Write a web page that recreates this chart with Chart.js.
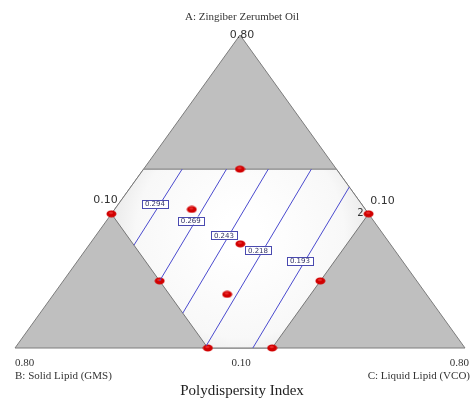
<!DOCTYPE html>
<html>
<head>
<meta charset="utf-8">
<script src="https://cdn.jsdelivr.net/npm/chart.js@4/dist/chart.umd.min.js"></script>
<style>
  body { margin: 0; background: #fff; }
  #wrap { width: 472px; height: 409px; position: relative; }
</style>
</head>
<body>
<div id="wrap"><canvas id="chart"></canvas></div>
<script>
// component bounds (real units)
const lowBound = 0.10;
const highBound = 0.80;
const upperLimit = 0.50;

const axisTitles = ['A: Zingiber Zerumbet Oil', 'B: Solid Lipid (GMS)', 'C: Liquid Lipid (VCO)'];
const vertexTicks = ['0.80', '0.80', '0.80'];
const edgeTicks = ['0.10', '0.10', '0.10'];
const chartTitle = 'Polydispersity Index';

// contour levels and their end points as (A, B, C)
const contourLevels = ['0.294', '0.269', '0.243', '0.218', '0.193'];
const contourStart = [[0.50, 0.34, 0.16], [0.50, 0.271, 0.229], [0.50, 0.206, 0.294], [0.50, 0.139, 0.361], [0.46, 0.10, 0.44]];
const contourEnd = [[0.33, 0.50, 0.17], [0.25, 0.50, 0.25], [0.178, 0.50, 0.322], [0.105, 0.50, 0.395], [0.10, 0.43, 0.47]];

// design points
const designA = [0.50, 0.40, 0.40, 0.41, 0.333, 0.25, 0.25, 0.22, 0.10, 0.10];
const designB = [0.25, 0.50, 0.10, 0.37, 0.333, 0.50, 0.25, 0.41, 0.50, 0.40];
const designC = [0.25, 0.10, 0.50, 0.22, 0.334, 0.25, 0.50, 0.37, 0.40, 0.50];
const designReps = ['', '', '2', '', '', '', '', '', '', ''];

function toXY(a, b, c) {
  const pa = (a - lowBound) / (highBound - lowBound);
  const pc = (c - lowBound) / (highBound - lowBound);
  return { x: pc + pa / 2, y: pa };
}

// region outlines
const bigTriangle = [[0.8, 0.1, 0.1], [0.1, 0.8, 0.1], [0.1, 0.1, 0.8]];
const region = [
  [upperLimit, 0.1, 1 - upperLimit - 0.1],
  [1 - upperLimit - 0.1, 0.1, upperLimit],
  [0.1, 1 - upperLimit - 0.1, upperLimit],
  [0.1, upperLimit, 1 - upperLimit - 0.1],
  [1 - upperLimit - 0.1, upperLimit, 0.1],
  [upperLimit, 1 - upperLimit - 0.1, 0.1],
];

function dotImage() {
  const c = document.createElement('canvas');
  c.width = 11; c.height = 8;
  const g = c.getContext('2d');
  g.fillStyle = '#d10000';
  g.beginPath();
  g.ellipse(5.5, 4, 5, 3.5, 0, 0, Math.PI * 2);
  g.fill();
  g.fillStyle = 'rgba(255,80,80,0.5)';
  g.beginPath();
  g.ellipse(5, 3, 2, 1.2, 0, 0, Math.PI * 2);
  g.fill();
  return c;
}

function px(chart, p) {
  const q = toXY(p[0], p[1], p[2]);
  return [chart.scales.x.getPixelForValue(q.x), chart.scales.y.getPixelForValue(q.y)];
}

function polygon(ctx, chart, pts) {
  ctx.beginPath();
  pts.forEach((p, i) => {
    const [x, y] = px(chart, p);
    if (i === 0) ctx.moveTo(x, y); else ctx.lineTo(x, y);
  });
  ctx.closePath();
}

const backgroundPlugin = {
  id: 'ternaryBackground',
  beforeDatasetsDraw(chart) {
    const ctx = chart.ctx;
    ctx.save();
    polygon(ctx, chart, bigTriangle);
    ctx.fillStyle = '#bfbfbf';
    ctx.fill();
    ctx.strokeStyle = '#7c7c7c';
    ctx.lineWidth = 1;
    ctx.stroke();

    const [cx, cy] = px(chart, [0.333, 0.333, 0.334]);
    const grad = ctx.createRadialGradient(cx, cy - 10, 20, cx, cy - 10, 160);
    grad.addColorStop(0, '#ffffff');
    grad.addColorStop(0.6, '#f8f8f8');
    grad.addColorStop(1, '#dadada');
    polygon(ctx, chart, region);
    ctx.fillStyle = grad;
    ctx.fill();
    ctx.strokeStyle = '#777';
    ctx.stroke();
    ctx.restore();
  },
};

const labelPlugin = {
  id: 'ternaryLabels',
  afterDatasetsDraw(chart) {
    const ctx = chart.ctx;
    ctx.save();
    // contour labels
    ctx.font = '7px "DejaVu Sans", sans-serif';
    ctx.textAlign = 'center';
    ctx.textBaseline = 'middle';
    contourLevels.forEach((lab, i) => {
      const [x1, y1] = px(chart, contourStart[i]);
      const [x2, y2] = px(chart, contourEnd[i]);
      const t = 0.46;
      const x = x1 + (x2 - x1) * t - 5;
      const y = y1 + (y2 - y1) * t;
      const w = ctx.measureText(lab).width + 6;
      ctx.fillStyle = '#ffffff';
      ctx.fillRect(x - w / 2, y - 4, w, 8);
      ctx.strokeStyle = '#4a4ab0';
      ctx.lineWidth = 1;
      ctx.strokeRect(Math.round(x - w / 2) + 0.5, Math.round(y - 4) + 0.5, Math.round(w), 8);
      ctx.fillStyle = '#333366';
      ctx.fillText(lab, x, y + 0.5);
    });

    // replicate count
    ctx.font = '10px "DejaVu Sans", sans-serif';
    ctx.fillStyle = '#333';
    designReps.forEach((r, i) => {
      if (!r) return;
      const [x, y] = px(chart, [designA[i], designB[i], designC[i]]);
      ctx.textAlign = 'right';
      ctx.fillText(r, x - 5, y);
    });

    const area = chart.chartArea;
    const mid = (area.left + area.right) / 2;
    ctx.fillStyle = '#333';
    ctx.textAlign = 'center';
    ctx.font = '11px "Liberation Serif", serif';
    ctx.fillText(axisTitles[0], mid + 2, 17);
    ctx.font = '11px "DejaVu Sans", sans-serif';
    ctx.fillText(vertexTicks[0], mid + 2, 35);

    // side ticks at the upper-limit vertices on the outer edges
    const [lx, ly] = px(chart, region[4]);
    const [rx, ry] = px(chart, region[1]);
    ctx.fillText(edgeTicks[1], lx - 6, ly - 14);
    ctx.fillText(edgeTicks[2], rx + 14, ry - 13);

    ctx.font = '11px "Liberation Serif", serif';
    ctx.textAlign = 'left';
    ctx.fillText(vertexTicks[1], area.left, area.bottom + 15);
    ctx.fillText(axisTitles[1], area.left, area.bottom + 28);
    ctx.textAlign = 'center';
    ctx.fillText(edgeTicks[0], mid + 1, area.bottom + 15);
    ctx.textAlign = 'right';
    ctx.fillText(vertexTicks[2], chart.width - 3, area.bottom + 15);
    ctx.fillText(axisTitles[2], chart.width - 2, area.bottom + 28);

    ctx.textAlign = 'center';
    ctx.font = '15px "Liberation Serif", serif';
    ctx.fillStyle = '#222';
    ctx.fillText(chartTitle, mid + 2, area.bottom + 43);
    ctx.restore();
  },
};

function init() {
  const contourSets = contourLevels.map((lab, i) => ({
    label: lab,
    data: [contourStart[i], contourEnd[i]].map((p) => toXY(p[0], p[1], p[2])),
    showLine: true,
    borderColor: '#4b4bcf',
    borderWidth: 1,
    pointRadius: 0,
    clip: false,
  }));
  const designSet = {
    label: 'design',
    data: designA.map((a, i) => toXY(a, designB[i], designC[i])),
    pointStyle: dotImage(),
    pointRadius: 5,
    clip: false,
  };

  new Chart(document.getElementById('chart'), {
    type: 'scatter',
    data: { datasets: [...contourSets, designSet] },
    options: {
      responsive: true,
      maintainAspectRatio: false,
      animation: false,
      layout: { padding: { left: 15, right: 7, top: 35, bottom: 61 } },
      plugins: { legend: { display: false }, tooltip: { enabled: false } },
      scales: {
        x: { type: 'linear', min: 0, max: 1, display: false },
        y: { type: 'linear', min: 0, max: 1, display: false },
      },
    },
    plugins: [backgroundPlugin, labelPlugin],
  });
}

document.addEventListener('DOMContentLoaded', init);
</script>
</body>
</html>
